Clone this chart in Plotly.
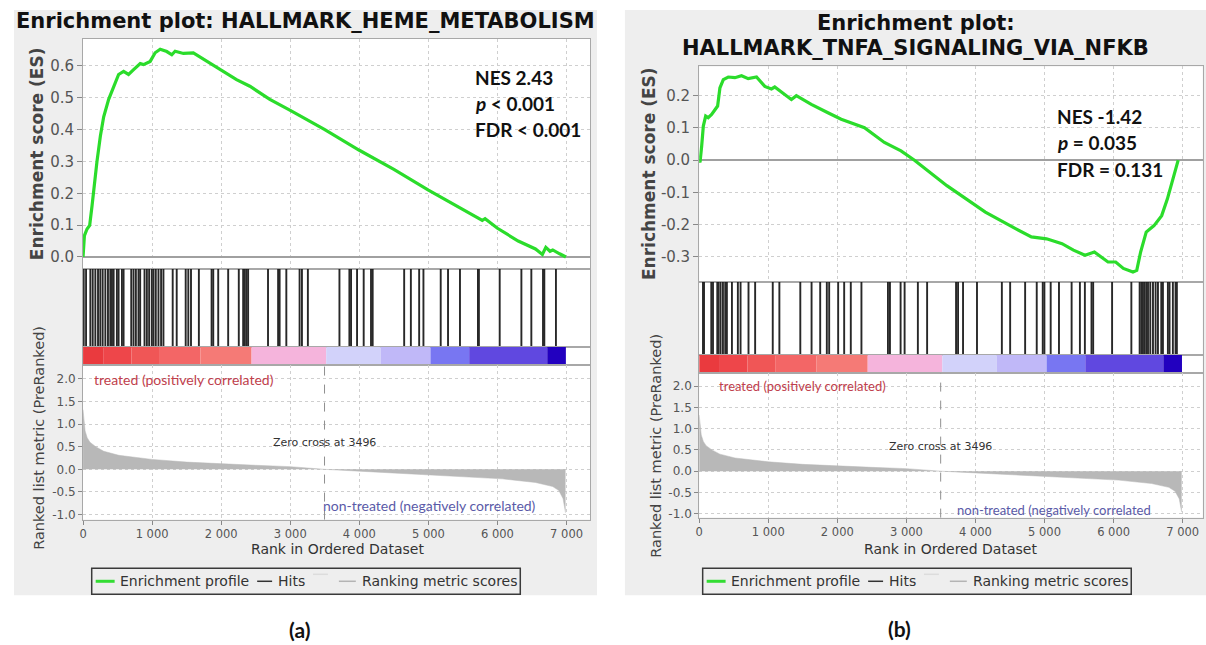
import plotly.graph_objects as go

W, H = 1206, 645

# ---------------- data ----------------
ZERO_CROSS = 3496

es_a_rank = [0, 20, 58, 96, 130, 154, 202, 251, 299, 371, 443, 515, 587, 659, 732, 828, 876, 972,
             1044, 1117, 1213, 1285, 1333, 1453, 1597, 1742, 1886, 2078, 2222, 2415, 2704, 3000,
             3500, 4000, 4500, 5000, 5500, 5780, 5820, 6000, 6300, 6550, 6650, 6700, 6760, 6800,
             6900, 6990]
es_a_val = [0.0, 0.067, 0.088, 0.099, 0.16, 0.21, 0.30, 0.38, 0.44, 0.495, 0.536, 0.573, 0.583,
            0.573, 0.588, 0.607, 0.604, 0.614, 0.641, 0.652, 0.645, 0.635, 0.646, 0.639, 0.641,
            0.622, 0.604, 0.578, 0.557, 0.536, 0.495, 0.46, 0.40, 0.335, 0.275, 0.21, 0.15, 0.115,
            0.12, 0.09, 0.05, 0.025, 0.008, 0.03, 0.018, 0.022, 0.01, 0.0]

hits_a = [10, 44, 106, 140, 178, 217, 250, 284, 323, 361, 395, 419, 443, 490, 515, 563, 587,
          698, 731, 765, 803, 827, 890, 924, 957, 996, 1020, 1053, 1092, 1130, 1164, 1298, 1356,
          1486, 1524, 1563, 1677, 1861, 1885, 1957, 2101, 2255, 2318, 2342, 2366, 2390, 2678,
          2824, 2846, 2943, 3135, 3169, 3255, 3712, 3856, 3880, 3967, 4063, 4169, 4193, 4649,
          4746, 4866, 4928, 5178, 5284, 5457, 5717, 5731, 6032, 6346, 6490, 6659, 6678, 6846]

es_b_rank = [0, 12, 36, 60, 94, 130, 180, 228, 267, 300, 349, 421, 517, 613, 710, 830, 950, 1046,
             1094, 1238, 1335, 1407, 1623, 1864, 2056, 2393, 2681, 2922, 3117, 3586, 4143, 4587,
             4810, 5029, 5253, 5419, 5586, 5722, 5919, 6030, 6141, 6280, 6335, 6391, 6472, 6585,
             6696, 6779, 6860, 6935]
es_b_val = [0.0, -0.007, 0.044, 0.106, 0.137, 0.132, 0.142, 0.157, 0.168, 0.224, 0.25, 0.258,
            0.256, 0.262, 0.253, 0.258, 0.229, 0.221, 0.227, 0.204, 0.188, 0.2, 0.173, 0.147,
            0.127, 0.101, 0.055, 0.029, 0.0, -0.079, -0.161, -0.213, -0.238, -0.244, -0.259,
            -0.279, -0.295, -0.285, -0.316, -0.316, -0.336, -0.347, -0.342, -0.285, -0.223,
            -0.203, -0.172, -0.12, -0.059, 0.0]

hits_b = [55, 70, 175, 200, 262, 281, 310, 344, 377, 401, 474, 560, 599, 714, 810, 1065, 1161,
          1464, 1627, 1752, 1848, 1882, 2012, 2099, 2195, 2349, 2733, 2762, 2916, 2974, 3166,
          3300, 3719, 3748, 3820, 4022, 4382, 4502, 4719, 4887, 4974, 4998, 5089, 5209, 5392,
          5512, 5584, 5680, 5704, 5978, 6257, 6377, 6401, 6425, 6449, 6474, 6498, 6531, 6570,
          6608, 6642, 6690, 6714, 6786, 6810, 6858, 6897, 6916]

metric_rank = [0, 10, 30, 60, 100, 184, 300, 518, 1000, 1500, 2000, 2500, 3000, 3496, 4000, 4500,
               5000, 5500, 6070, 6550, 6800, 6889, 6950, 6985]
metric_val = [1.32, 1.1, 0.85, 0.7, 0.6, 0.5, 0.4, 0.31, 0.22, 0.16, 0.12, 0.09, 0.06, 0.0,
              -0.04, -0.08, -0.11, -0.15, -0.21, -0.29, -0.38, -0.47, -0.65, -0.96]

cb_edges = [0, 300, 700, 1100, 1700, 2440, 3520, 4310, 5030, 5590, 6720, 6990]
cb_colors = ['#ea3a3e', '#ee464a', '#f05656', '#f36666', '#f57a76', '#f5b4dc', '#d2d2fa',
             '#c0b8f8', '#7876f2', '#6048e0', '#2200bf']

x_tickvals = [0, 1000, 2000, 3000, 4000, 5000, 6000, 7000]
x_ticktext = ["0", "1 000", "2 000", "3 000", "4 000", "5 000", "6 000", "7 000"]
es_a_ticks = [0.0, 0.1, 0.2, 0.3, 0.4, 0.5, 0.6]
es_b_ticks = [-0.3, -0.2, -0.1, 0.0, 0.1, 0.2]
metric_ticks = [-1.0, -0.5, 0.0, 0.5, 1.0, 1.5, 2.0]

title_a = ["Enrichment plot: HALLMARK_HEME_METABOLISM"]
title_b = ["Enrichment plot:", "HALLMARK_TNFA_SIGNALING_VIA_NFKB"]
stats_a = ["NES 2.43", "<i>p</i> < 0.001", "FDR < 0.001"]
stats_b = ["NES -1.42", "<i>p</i> = 0.035", "FDR = 0.131"]
pos_label = "treated (positively correlated)"
neg_label_a = "non-treated (negatively correlated)"
neg_label_b = "non-treated (negatively correlated"
panel_labels = ["(a)", "(b)"]


def fmt(v):
    return ("-" if v < 0 else "") + f"{abs(v):.1f}"


def hx(x):
    return x / W


def vy(y):
    return 1 - y / H


GRID = '#cfcfcf'
BORDER = '#a8a8a8'
TICKC = '#555555'
PANEL = '#eeeeee'
FONT = 'DejaVu Sans'

fig = go.Figure()
layout = dict(width=W, height=H, margin=dict(l=0, r=0, t=0, b=0), showlegend=False,
              paper_bgcolor='white', plot_bgcolor='white', shapes=[], annotations=[])

panels = [
    dict(x0=79.3, x1=588, xmax=7340, es=(39.3, 270), hitbox=(270, 348.5), cb=(348.5, 367),
         rk=(367, 522), es_range=[-0.037, 0.684], rk_range=[-1.11, 2.30],
         es_rank=es_a_rank, es_val=es_a_val, hits=hits_a, es_ticks=es_a_ticks,
         grey=(10, 10, 595, 598)),
    dict(x0=697.5, x1=1202.7, xmax=7290, es=(66.7, 283), hitbox=(283, 356.5), cb=(356.5, 375),
         rk=(375, 520), es_range=[-0.377, 0.291], rk_range=[-1.09, 2.30],
         es_rank=es_b_rank, es_val=es_b_val, hits=hits_b, es_ticks=es_b_ticks,
         grey=(623, 10, 1206, 598)),
]
KEYS = ('es', 'hitbox', 'cb', 'rk')

# grey panel backgrounds, then white plotting areas
for p in panels:
    gx0, gy0, gx1, gy1 = p['grey']
    layout['shapes'].append(dict(type='rect', xref='paper', yref='paper', layer='below',
                                 x0=hx(gx0), x1=hx(gx1), y0=vy(gy1), y1=vy(gy0),
                                 fillcolor=PANEL, line=dict(width=0)))
for p in panels:
    for key in KEYS:
        t, b = p[key]
        layout['shapes'].append(dict(type='rect', xref='paper', yref='paper', layer='below',
                                     x0=hx(p['x0']), x1=hx(p['x1']), y0=vy(b), y1=vy(t),
                                     fillcolor='white', line=dict(width=0)))

for i, p in enumerate(panels):
    base = i * 4
    names = [str(base + k + 1) if base + k > 0 else '' for k in range(4)]
    xdom = [hx(p['x0']), hx(p['x1'])]
    for k, key in enumerate(KEYS):
        t, b = p[key]
        xa = dict(domain=xdom, range=[0, p['xmax']], anchor='y' + names[k], showline=True,
                  mirror=True, linecolor=BORDER, linewidth=1, zeroline=False,
                  showticklabels=False, ticks='', showgrid=False)
        ya = dict(domain=[vy(b), vy(t)], anchor='x' + names[k], showline=True, mirror=True,
                  linecolor=BORDER, linewidth=1, zeroline=False, showticklabels=False,
                  ticks='', showgrid=False)
        if key == 'es':
            xa.update(showgrid=True, gridcolor=GRID, griddash='dot', tickvals=x_tickvals)
            ya.update(range=p['es_range'], tickvals=p['es_ticks'],
                      ticktext=[fmt(v) for v in p['es_ticks']], showticklabels=True,
                      ticks='outside', ticklen=5, tickcolor='#888', showgrid=True,
                      gridcolor=GRID, griddash='dot', zeroline=True, zerolinecolor='#a0a0a0',
                      zerolinewidth=1.5, tickfont=dict(family=FONT, size=15, color=TICKC))
        elif key in ('hitbox', 'cb'):
            ya.update(range=[0, 1])
        else:
            xa.update(showgrid=True, gridcolor=GRID, griddash='dot', tickvals=x_tickvals,
                      ticktext=x_ticktext, showticklabels=True, ticks='outside', ticklen=4,
                      tickcolor='#888', tickfont=dict(family=FONT, size=11.5, color=TICKC))
            ya.update(range=p['rk_range'], tickvals=metric_ticks,
                      ticktext=[fmt(v) for v in metric_ticks], showticklabels=True,
                      ticks='outside', ticklen=4, tickcolor='#888', showgrid=True,
                      gridcolor=GRID, griddash='dot',
                      tickfont=dict(family=FONT, size=12, color=TICKC))
        layout['xaxis' + names[k]] = xa
        layout['yaxis' + names[k]] = ya

    # enrichment profile
    fig.add_trace(go.Scatter(x=p['es_rank'], y=p['es_val'], mode='lines',
                             line=dict(color='#2bdc2b', width=3.2),
                             xaxis='x' + names[0], yaxis='y' + names[0]))
    # hits
    hx_, hy_ = [], []
    for h in p['hits']:
        hx_ += [h, h, None]
        hy_ += [0, 1, None]
    fig.add_trace(go.Scatter(x=hx_, y=hy_, mode='lines', line=dict(color='#111111', width=1.9),
                             opacity=0.9, xaxis='x' + names[1], yaxis='y' + names[1]))
    # colour bar
    fig.add_trace(go.Bar(x=[(a + b) / 2 for a, b in zip(cb_edges[:-1], cb_edges[1:])],
                         width=[b - a for a, b in zip(cb_edges[:-1], cb_edges[1:])],
                         y=[1] * len(cb_colors), marker=dict(color=cb_colors, line=dict(width=0)),
                         xaxis='x' + names[2], yaxis='y' + names[2]))
    # ranked metric
    fig.add_trace(go.Scatter(x=metric_rank, y=metric_val, mode='lines', fill='tozeroy',
                             fillcolor='#b8b8b8', line=dict(color='#b8b8b8', width=0.5),
                             xaxis='x' + names[3], yaxis='y' + names[3]))
    # zero cross dashed line
    layout['shapes'].append(dict(type='line', xref='x' + names[3], yref='y' + names[3] + ' domain',
                                 x0=ZERO_CROSS, x1=ZERO_CROSS, y0=0, y1=1,
                                 line=dict(color='#909090', width=1, dash='dash')))
    layout['annotations'].append(dict(xref='x' + names[3], yref='y' + names[3], x=ZERO_CROSS,
                                      y=0.59, text=f"Zero cross at {ZERO_CROSS}", showarrow=False,
                                      xanchor='center', yanchor='middle',
                                      font=dict(family=FONT, size=11, color='#333')))

A = layout['annotations']
S = layout['shapes']


def text(x, y, s, size, color='#111', family=FONT, anchor='left', angle=0):
    A.append(dict(xref='paper', yref='paper', x=hx(x), y=vy(y), text=s, showarrow=False,
                  xanchor=anchor, yanchor='middle', textangle=angle,
                  font=dict(family=family, size=size, color=color)))


# titles
text(302.5, 21, "<b>" + title_a[0] + "</b>", 21, anchor='center')
text(915, 23, "<b>" + title_b[0] + "</b>", 21, anchor='center')
text(915, 48, "<b>" + title_b[1] + "</b>", 21, anchor='center')

# axis titles
text(33, 154, "<b>Enrichment score (ES)</b>", 17, color='#444', anchor='center', angle=-90)
text(35, 440, "Ranked list metric (PreRanked)", 14.5, color='#444', anchor='center', angle=-90)
text(647, 174, "<b>Enrichment score (ES)</b>", 17, color='#444', anchor='center', angle=-90)
text(654, 448, "Ranked list metric (PreRanked)", 14.5, color='#444', anchor='center', angle=-90)
text(335, 552, "Rank in Ordered Dataset", 14, color='#333', anchor='center')
text(950, 552, "Rank in Ordered Dataset", 14, color='#333', anchor='center')

# stats
for j, s in enumerate(stats_a):
    text(471, 78 + j * 26, "<b>" + s + "</b>", 19, family='Lato')
for j, s in enumerate(stats_b):
    text(1054, 117 + j * 26.5, "<b>" + s + "</b>", 19, family='Lato')

# correlation labels
text(88, 381, pos_label, 14, color='#c0404c', family='Lato')
text(715, 388, pos_label, 13, color='#c0404c', family='Lato')
text(318, 508, neg_label_a, 14, color='#5a5aa8', family='Lato')
text(954, 512, neg_label_b, 13, color='#5a5aa8', family='Lato')

# panel labels
text(296, 632, "<b>" + panel_labels[0] + "</b>", 21, anchor='center', family='Lato')
text(898, 631, "<b>" + panel_labels[1] + "</b>", 21, anchor='center', family='Lato')

# legends
for dx in (0, 613):
    S.append(dict(type='rect', xref='paper', yref='paper', x0=hx(88 + dx), x1=hx(518 + dx),
                  y0=vy(597), y1=vy(571), line=dict(color='#3a3a3a', width=1.5)))
    S.append(dict(type='line', xref='paper', yref='paper', x0=hx(92 + dx), x1=hx(111 + dx),
                  y0=vy(584), y1=vy(584), line=dict(color='#33dd33', width=3)))
    text(114 + dx, 584, "Enrichment profile", 14, color='#333')
    S.append(dict(type='line', xref='paper', yref='paper', x0=hx(254 + dx), x1=hx(269 + dx),
                  y0=vy(584), y1=vy(584), line=dict(color='#333', width=1.5)))
    text(273 + dx, 584, "Hits", 14, color='#333')
    S.append(dict(type='line', xref='paper', yref='paper', x0=hx(310 + dx), x1=hx(325 + dx),
                  y0=vy(577), y1=vy(577), line=dict(color='#dcdcdc', width=1.5)))
    S.append(dict(type='line', xref='paper', yref='paper', x0=hx(336 + dx), x1=hx(353 + dx),
                  y0=vy(584), y1=vy(584), line=dict(color='#b4b4b4', width=1.5)))
    text(357 + dx, 584, "Ranking metric scores", 14, color='#333')

fig.update_layout(**layout)
fig.write_html("out.html")
